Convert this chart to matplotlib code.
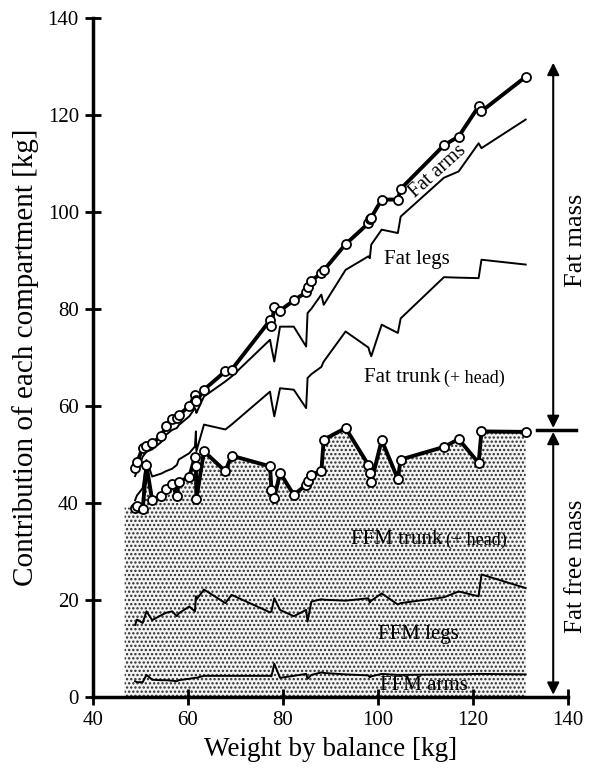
import matplotlib.pyplot as plt

# Weight by balance [kg], one value per subject (sorted)
weight = [48.9, 49.3, 50.5, 51.3, 52.5, 54.4, 55.4, 56.7, 57.7, 58.1,
          60.3, 61.5, 61.7, 61.8, 63.4, 67.9, 69.2, 77.3, 77.6, 78.2,
          79.4, 82.3, 84.9, 85.2, 86.0, 88.1, 88.6, 93.2, 98.0, 98.3,
          98.6, 100.8, 104.2, 104.8, 113.9, 117.0, 121.2, 121.8, 131.1]

# Cumulative top of each compartment [kg]
ffm_arms = [3.2, 3.0, 3.0, 4.5, 3.5, 3.4, 3.4, 3.3, 3.2, 3.4,
            3.7, 3.9, 3.9, 3.9, 4.3, 4.3, 4.3, 4.3, 4.2, 6.8,
            3.9, 4.3, 4.7, 3.7, 4.5, 5.0, 4.9, 4.6, 4.4, 4.0,
            4.2, 4.7, 4.5, 4.5, 4.6, 4.6, 4.7, 4.7, 4.6]
ffm_legs = [14.8, 15.9, 15.2, 17.6, 15.8, 16.8, 17.3, 17.6, 16.6, 17.2,
            18.6, 17.6, 20.7, 20.0, 22.1, 19.3, 21.0, 17.4, 17.6, 20.3,
            17.9, 16.6, 17.9, 15.5, 19.6, 20.1, 20.0, 19.8, 20.3, 19.4,
            19.8, 21.3, 19.0, 19.3, 20.5, 21.7, 20.7, 25.2, 22.4]
ffm_trunk = [39.0, 39.3, 38.7, 47.7, 40.5, 41.3, 42.9, 43.9, 41.3, 44.3,
             45.3, 49.5, 47.5, 40.8, 50.6, 46.5, 49.7, 47.5, 42.7, 40.9,
             46.2, 41.6, 43.7, 44.5, 45.8, 46.5, 53.0, 55.4, 47.8, 46.1,
             44.2, 52.9, 44.9, 48.9, 51.5, 53.1, 48.2, 54.7, 54.6]
fat_trunk = [40.5, 41.5, 43.0, 48.8, 45.4, 46.0, 46.5, 47.0, 47.8, 48.9,
             50.2, 51.6, 54.7, 50.6, 56.1, 55.1, 56.1, 62.9, 61.0, 57.8,
             63.6, 63.3, 59.5, 65.7, 66.5, 68.0, 69.1, 75.3, 72.0, 71.0,
             70.2, 76.7, 75.0, 78.0, 86.5, 86.4, 86.3, 90.1, 89.1]
fat_legs = [45.5, 46.5, 49.5, 50.5, 51.0, 52.5, 54.0, 55.0, 55.4, 56.0,
            57.8, 59.5, 59.0, 58.5, 61.9, 65.0, 66.0, 73.6, 72.0, 69.1,
            76.3, 76.3, 72.2, 79.1, 80.0, 82.9, 80.8, 88.0, 90.8, 90.4,
            93.2, 96.3, 95.6, 99.0, 107.0, 108.3, 114.1, 113.1, 119.0]
fat_arms = [47.1, 48.3, 51.3, 51.6, 52.3, 53.7, 55.8, 57.2, 57.4, 58.1,
            59.9, 62.3, 61.2, 60.9, 63.3, 67.1, 67.4, 77.6, 76.5, 80.3,
            79.6, 81.7, 83.4, 84.4, 85.8, 87.3, 87.9, 93.3, 97.6, 98.4,
            98.8, 102.5, 102.5, 104.7, 113.7, 115.5, 121.7, 120.7, 127.8]

shade_start = 46.7
fat_split = 55

plt.rcParams['font.family'] = ['Liberation Serif', 'DejaVu Serif']
plt.rcParams['hatch.linewidth'] = 1.1

fig = plt.figure(figsize=(5.91, 7.69), dpi=100)
ax = fig.add_axes([0.157, 0.094, 0.804, 0.883])

# zone FFM pointillee
ax.fill_between([shade_start] + weight, [ffm_trunk[0]] + ffm_trunk, 0,
                facecolor='#f4f4f4', edgecolor='#2a2a2a', hatch='....',
                linewidth=0, zorder=1)

thin = dict(color='black', lw=1.4, zorder=3)
ax.plot(weight, ffm_arms, **thin)
ax.plot(weight, ffm_legs, **thin)
ax.plot(weight, fat_trunk, **thin)
ax.plot(weight, fat_legs, **thin)

thick = dict(color='black', lw=2.8, marker='o', ms=6.5, mfc='white',
             mec='black', mew=1.3, zorder=4)
ax.plot(weight, ffm_trunk, **thick)
ax.plot(weight, fat_arms, **thick)

# labels dans le graphe
fs = 15
ax.text(112.6, 108.3, "Fat arms", fontsize=14.5, rotation=42,
        ha='center', va='center', zorder=5)
ax.text(108.3, 90.1, "Fat legs", fontsize=fs, ha='center', va='center')
ax.text(113.1, 65.8, "Fat trunk", fontsize=fs, ha='right', va='center')
ax.text(114.0, 65.6, "(+ head)", fontsize=13, ha='left', va='center')
ax.text(113.7, 32.4, "FFM trunk", fontsize=fs, ha='right', va='center', zorder=2)
ax.text(114.4, 32.2, "(+ head)", fontsize=13, ha='left', va='center', zorder=2)
ax.text(108.6, 12.8, "FFM legs", fontsize=fs, ha='center', va='center', zorder=2)
ax.text(109.7, 2.4, "FFM arms", fontsize=fs, ha='center', va='center', zorder=2)

# fleches a droite
arrow = dict(arrowstyle='<|-|>', color='black', lw=1.5, mutation_scale=18,
             shrinkA=0, shrinkB=0)
ax.annotate("", xy=(136.9, 130.7), xytext=(136.9, fat_split + 0.4),
            arrowprops=arrow, annotation_clip=False)
ax.annotate("", xy=(136.9, fat_split - 0.4), xytext=(136.9, 0.4),
            arrowprops=arrow, annotation_clip=False)
ax.plot([133.5, 141.7], [fat_split, fat_split], color='black', lw=2.5,
        clip_on=False)
ax.text(141.6, 94.2, "Fat mass", fontsize=19, rotation=90,
        ha='center', va='center')
ax.text(141.6, 26.8, "Fat free mass", fontsize=18, rotation=90,
        ha='center', va='center')

ax.set_xlim(40, 140)
ax.set_ylim(0, 140)
ax.set_xticks(range(40, 141, 20))
ax.set_yticks(range(0, 141, 20))
ax.spines['top'].set_visible(False)
ax.spines['right'].set_visible(False)
ax.spines['left'].set_linewidth(2.5)
ax.spines['bottom'].set_linewidth(2.5)
ax.tick_params(direction='inout', length=12, width=2, labelsize=15, pad=4)
ax.set_xlabel("Weight by balance [kg]", fontsize=19.5, labelpad=5)
ax.set_ylabel("Contribution of each compartment [kg]", fontsize=21, labelpad=6)

fig.savefig("out.png", dpi=100)
